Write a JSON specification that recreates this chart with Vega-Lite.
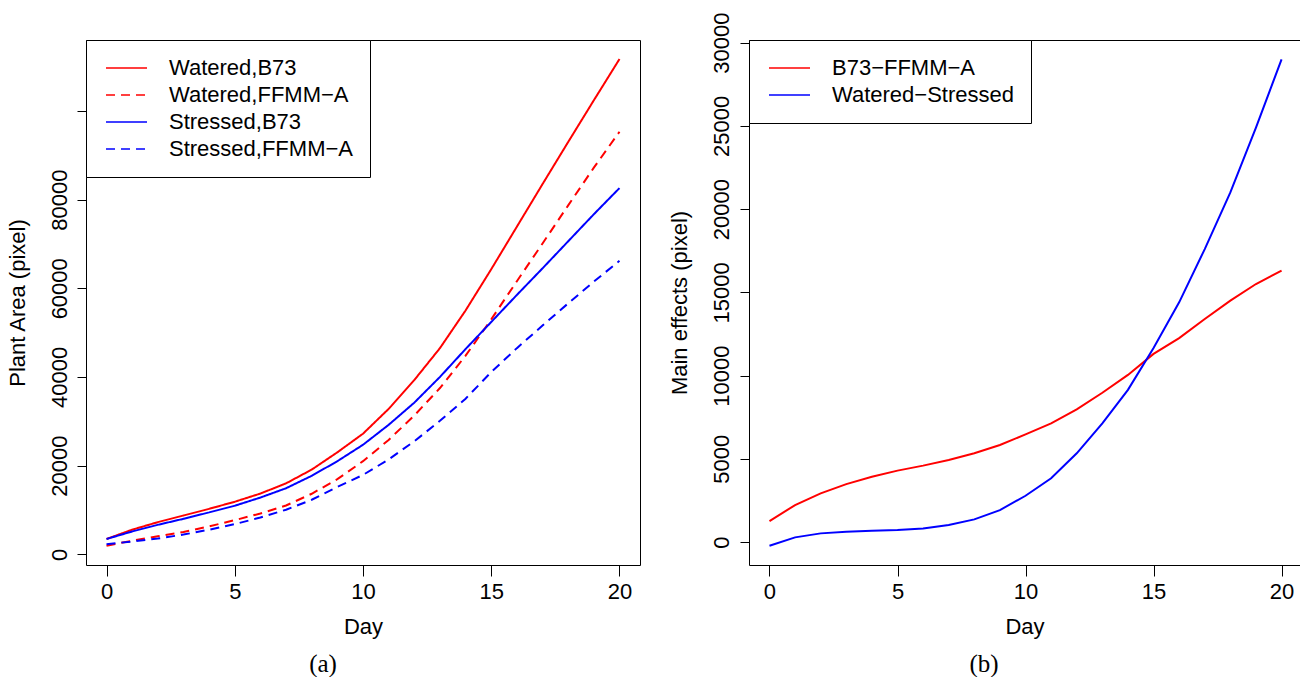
{
  "$schema": "https://vega.github.io/schema/vega-lite/v6.json",
  "autosize": {"type": "pad"},
  "padding": {"left": 5, "top": 11, "right": 0, "bottom": 0},
  "background": "white",
  "spacing": 109,
  "bounds": "flush",
  "datasets": {
    "a": [
      {"day": 0, "series": "Watered,B73", "area": 3450},
      {"day": 1, "series": "Watered,B73", "area": 5550},
      {"day": 2, "series": "Watered,B73", "area": 7250},
      {"day": 3, "series": "Watered,B73", "area": 8750},
      {"day": 4, "series": "Watered,B73", "area": 10250},
      {"day": 5, "series": "Watered,B73", "area": 11850},
      {"day": 6, "series": "Watered,B73", "area": 13700},
      {"day": 7, "series": "Watered,B73", "area": 16000},
      {"day": 8, "series": "Watered,B73", "area": 19100},
      {"day": 9, "series": "Watered,B73", "area": 23000},
      {"day": 10, "series": "Watered,B73", "area": 27200},
      {"day": 11, "series": "Watered,B73", "area": 32800},
      {"day": 12, "series": "Watered,B73", "area": 39300},
      {"day": 13, "series": "Watered,B73", "area": 46500},
      {"day": 14, "series": "Watered,B73", "area": 55000},
      {"day": 15, "series": "Watered,B73", "area": 64300},
      {"day": 16, "series": "Watered,B73", "area": 73900},
      {"day": 17, "series": "Watered,B73", "area": 83500},
      {"day": 18, "series": "Watered,B73", "area": 93000},
      {"day": 19, "series": "Watered,B73", "area": 102400},
      {"day": 20, "series": "Watered,B73", "area": 111700},
      {"day": 0, "series": "Watered,FFMM−A", "area": 1950},
      {"day": 1, "series": "Watered,FFMM−A", "area": 3050},
      {"day": 2, "series": "Watered,FFMM−A", "area": 4050},
      {"day": 3, "series": "Watered,FFMM−A", "area": 5050},
      {"day": 4, "series": "Watered,FFMM−A", "area": 6300},
      {"day": 5, "series": "Watered,FFMM−A", "area": 7700},
      {"day": 6, "series": "Watered,FFMM−A", "area": 9200},
      {"day": 7, "series": "Watered,FFMM−A", "area": 11000},
      {"day": 8, "series": "Watered,FFMM−A", "area": 13650},
      {"day": 9, "series": "Watered,FFMM−A", "area": 16950},
      {"day": 10, "series": "Watered,FFMM−A", "area": 21000},
      {"day": 11, "series": "Watered,FFMM−A", "area": 25800},
      {"day": 12, "series": "Watered,FFMM−A", "area": 31300},
      {"day": 13, "series": "Watered,FFMM−A", "area": 37500},
      {"day": 14, "series": "Watered,FFMM−A", "area": 44800},
      {"day": 15, "series": "Watered,FFMM−A", "area": 53000},
      {"day": 16, "series": "Watered,FFMM−A", "area": 61600},
      {"day": 17, "series": "Watered,FFMM−A", "area": 70100},
      {"day": 18, "series": "Watered,FFMM−A", "area": 78700},
      {"day": 19, "series": "Watered,FFMM−A", "area": 87200},
      {"day": 20, "series": "Watered,FFMM−A", "area": 95300},
      {"day": 0, "series": "Stressed,B73", "area": 3450},
      {"day": 1, "series": "Stressed,B73", "area": 5150},
      {"day": 2, "series": "Stressed,B73", "area": 6650},
      {"day": 3, "series": "Stressed,B73", "area": 8000},
      {"day": 4, "series": "Stressed,B73", "area": 9450},
      {"day": 5, "series": "Stressed,B73", "area": 10950},
      {"day": 6, "series": "Stressed,B73", "area": 12800},
      {"day": 7, "series": "Stressed,B73", "area": 14900},
      {"day": 8, "series": "Stressed,B73", "area": 17700},
      {"day": 9, "series": "Stressed,B73", "area": 21000},
      {"day": 10, "series": "Stressed,B73", "area": 24700},
      {"day": 11, "series": "Stressed,B73", "area": 29200},
      {"day": 12, "series": "Stressed,B73", "area": 34200},
      {"day": 13, "series": "Stressed,B73", "area": 40000},
      {"day": 14, "series": "Stressed,B73", "area": 46300},
      {"day": 15, "series": "Stressed,B73", "area": 52400},
      {"day": 16, "series": "Stressed,B73", "area": 58500},
      {"day": 17, "series": "Stressed,B73", "area": 64500},
      {"day": 18, "series": "Stressed,B73", "area": 70600},
      {"day": 19, "series": "Stressed,B73", "area": 76700},
      {"day": 20, "series": "Stressed,B73", "area": 82600},
      {"day": 0, "series": "Stressed,FFMM−A", "area": 2260},
      {"day": 1, "series": "Stressed,FFMM−A", "area": 2900},
      {"day": 2, "series": "Stressed,FFMM−A", "area": 3550},
      {"day": 3, "series": "Stressed,FFMM−A", "area": 4450},
      {"day": 4, "series": "Stressed,FFMM−A", "area": 5550},
      {"day": 5, "series": "Stressed,FFMM−A", "area": 6800},
      {"day": 6, "series": "Stressed,FFMM−A", "area": 8300},
      {"day": 7, "series": "Stressed,FFMM−A", "area": 10050},
      {"day": 8, "series": "Stressed,FFMM−A", "area": 12300},
      {"day": 9, "series": "Stressed,FFMM−A", "area": 15200},
      {"day": 10, "series": "Stressed,FFMM−A", "area": 17900},
      {"day": 11, "series": "Stressed,FFMM−A", "area": 21400},
      {"day": 12, "series": "Stressed,FFMM−A", "area": 25500},
      {"day": 13, "series": "Stressed,FFMM−A", "area": 30100},
      {"day": 14, "series": "Stressed,FFMM−A", "area": 35100},
      {"day": 15, "series": "Stressed,FFMM−A", "area": 41100},
      {"day": 16, "series": "Stressed,FFMM−A", "area": 46500},
      {"day": 17, "series": "Stressed,FFMM−A", "area": 51600},
      {"day": 18, "series": "Stressed,FFMM−A", "area": 56600},
      {"day": 19, "series": "Stressed,FFMM−A", "area": 61500},
      {"day": 20, "series": "Stressed,FFMM−A", "area": 66200}
    ],
    "b": [
      {"day": 0, "effect": "B73−FFMM−A", "value": 1260},
      {"day": 1, "effect": "B73−FFMM−A", "value": 2220},
      {"day": 2, "effect": "B73−FFMM−A", "value": 2920},
      {"day": 3, "effect": "B73−FFMM−A", "value": 3480},
      {"day": 4, "effect": "B73−FFMM−A", "value": 3920},
      {"day": 5, "effect": "B73−FFMM−A", "value": 4290},
      {"day": 6, "effect": "B73−FFMM−A", "value": 4590},
      {"day": 7, "effect": "B73−FFMM−A", "value": 4930},
      {"day": 8, "effect": "B73−FFMM−A", "value": 5330},
      {"day": 9, "effect": "B73−FFMM−A", "value": 5830},
      {"day": 10, "effect": "B73−FFMM−A", "value": 6470},
      {"day": 11, "effect": "B73−FFMM−A", "value": 7130},
      {"day": 12, "effect": "B73−FFMM−A", "value": 7970},
      {"day": 13, "effect": "B73−FFMM−A", "value": 8970},
      {"day": 14, "effect": "B73−FFMM−A", "value": 10040},
      {"day": 15, "effect": "B73−FFMM−A", "value": 11300},
      {"day": 16, "effect": "B73−FFMM−A", "value": 12250},
      {"day": 17, "effect": "B73−FFMM−A", "value": 13400},
      {"day": 18, "effect": "B73−FFMM−A", "value": 14500},
      {"day": 19, "effect": "B73−FFMM−A", "value": 15500},
      {"day": 20, "effect": "B73−FFMM−A", "value": 16300},
      {"day": 0, "effect": "Watered−Stressed", "value": -220},
      {"day": 1, "effect": "Watered−Stressed", "value": 280},
      {"day": 2, "effect": "Watered−Stressed", "value": 520},
      {"day": 3, "effect": "Watered−Stressed", "value": 620},
      {"day": 4, "effect": "Watered−Stressed", "value": 680},
      {"day": 5, "effect": "Watered−Stressed", "value": 720},
      {"day": 6, "effect": "Watered−Stressed", "value": 820},
      {"day": 7, "effect": "Watered−Stressed", "value": 1020},
      {"day": 8, "effect": "Watered−Stressed", "value": 1360},
      {"day": 9, "effect": "Watered−Stressed", "value": 1920},
      {"day": 10, "effect": "Watered−Stressed", "value": 2780},
      {"day": 11, "effect": "Watered−Stressed", "value": 3830},
      {"day": 12, "effect": "Watered−Stressed", "value": 5330},
      {"day": 13, "effect": "Watered−Stressed", "value": 7130},
      {"day": 14, "effect": "Watered−Stressed", "value": 9140},
      {"day": 15, "effect": "Watered−Stressed", "value": 11650},
      {"day": 16, "effect": "Watered−Stressed", "value": 14400},
      {"day": 17, "effect": "Watered−Stressed", "value": 17600},
      {"day": 18, "effect": "Watered−Stressed", "value": 21000},
      {"day": 19, "effect": "Watered−Stressed", "value": 24900},
      {"day": 20, "effect": "Watered−Stressed", "value": 29000}
    ]
  },
  "config": {
    "view": {"stroke": "black", "strokeWidth": 1},
    "font": "Liberation Sans",
    "axis": {
      "domain": false,
      "grid": false,
      "tickColor": "black",
      "tickWidth": 1,
      "labelColor": "black",
      "titleColor": "black",
      "labelFont": "Liberation Sans",
      "titleFont": "Liberation Sans",
      "labelFontSize": 22,
      "titleFontSize": 22,
      "titleFontWeight": "normal",
      "labelFlush": false,
      "labelOverlap": false
    },
    "axisX": {"tickSize": 11, "labelPadding": 5, "titlePadding": 14, "labelAngle": 0},
    "axisY": {"tickSize": 9, "labelPadding": 11, "titlePadding": 19, "labelAngle": 270, "labelAlign": "center", "labelBaseline": "alphabetic"},
    "legend": {
      "strokeColor": "black",
      "fillColor": "white",
      "padding": 17,
      "symbolType": "stroke",
      "symbolSize": 1681,
      "symbolStrokeWidth": 1.5,
      "symbolOffset": 2,
      "labelOffset": 21,
      "labelLimit": 400,
      "clipHeight": 22,
      "labelFont": "Liberation Sans",
      "labelFontSize": 22,
      "labelColor": "black",
      "rowPadding": 5,
      "direction": "vertical"
    },
    "title": {
      "font": "Liberation Serif",
      "fontSize": 25,
      "fontWeight": "normal",
      "color": "black",
      "orient": "bottom",
      "frame": "bounds",
      "anchor": "middle",
      "offset": 15
    }
  },
  "hconcat": [
    {
      "width": 554,
      "height": 525,
      "data": {"name": "a"},
      "title": {"text": "(a)"},
      "mark": {"type": "line", "strokeWidth": 2},
      "encoding": {
        "x": {"field": "day", "type": "quantitative", "scale": {"domain": [-0.8, 20.8], "nice": false, "zero": false}, "axis": {"values": [0, 5, 10, 15, 20], "title": "Day"}},
        "y": {"field": "area", "type": "quantitative", "scale": {"domain": [-2415, 116000], "nice": false, "zero": false}, "axis": {"values": [0, 20000, 40000, 60000, 80000, 100000], "format": "d", "labelExpr": "datum.value == 100000 ? '' : datum.label", "title": "Plant Area (pixel)"}},
        "color": {"field": "series", "type": "nominal", "scale": {"domain": ["Watered,B73", "Watered,FFMM−A", "Stressed,B73", "Stressed,FFMM−A"], "range": ["#ff0000", "#ff0000", "#0000ff", "#0000ff"]}, "legend": {"title": null, "orient": "none", "legendX": 0, "legendY": 0}},
        "strokeDash": {"field": "series", "type": "nominal", "scale": {"domain": ["Watered,B73", "Watered,FFMM−A", "Stressed,B73", "Stressed,FFMM−A"], "range": [[1, 0], [9, 6], [1, 0], [9, 6]]}, "legend": {"title": null, "orient": "none", "legendX": 0, "legendY": 0}}
      }
    },
    {
      "width": 551,
      "height": 525,
      "data": {"name": "b"},
      "title": {"text": "(b)"},
      "mark": {"type": "line", "strokeWidth": 2},
      "encoding": {
        "x": {"field": "day", "type": "quantitative", "scale": {"domain": [-0.8, 20.72], "nice": false, "zero": false}, "axis": {"values": [0, 5, 10, 15, 20], "title": "Day"}},
        "y": {"field": "value", "type": "quantitative", "scale": {"domain": [-1380, 30160], "nice": false, "zero": false}, "axis": {"values": [0, 5000, 10000, 15000, 20000, 25000, 30000], "format": "d", "labelPadding": 12, "title": "Main effects (pixel)"}},
        "color": {"field": "effect", "type": "nominal", "scale": {"domain": ["B73−FFMM−A", "Watered−Stressed"], "range": ["#ff0000", "#0000ff"]}, "legend": {"title": null, "orient": "none", "legendX": 0, "legendY": 0}}
      }
    }
  ],
  "resolve": {"scale": {"color": "independent", "strokeDash": "independent"}, "legend": {"color": "independent", "strokeDash": "independent"}}
}
